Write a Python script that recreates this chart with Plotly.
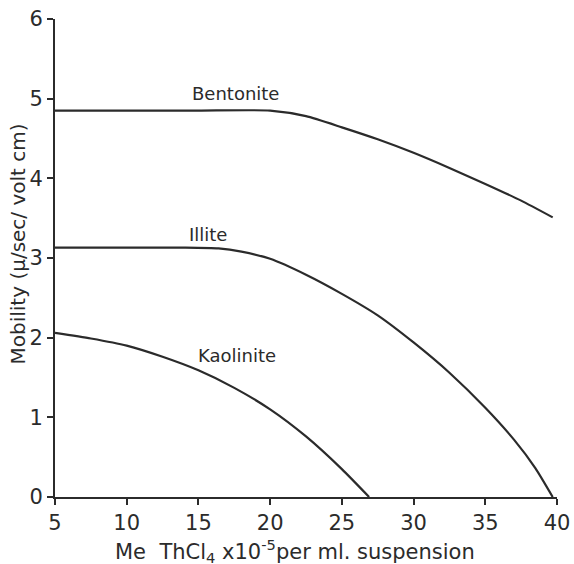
import plotly.graph_objects as go

# Data
bentonite_x = [5, 10, 15, 20, 22.5, 25, 27.5, 30, 32.5, 35, 37.5, 39.7]
bentonite_y = [4.85, 4.85, 4.85, 4.85, 4.78, 4.64, 4.49, 4.32, 4.13, 3.93, 3.72, 3.51]

illite_x = [5, 10, 14, 16.4, 18, 20, 22.5, 25, 27.5, 30, 32.5, 35, 37, 38.5, 39.7]
illite_y = [3.13, 3.13, 3.13, 3.12, 3.08, 2.99, 2.79, 2.55, 2.28, 1.94, 1.56, 1.12, 0.72, 0.36, 0.0]

kaolinite_x = [5, 7.5, 10, 12.5, 15, 17.5, 20, 22.5, 25, 26.9]
kaolinite_y = [2.06, 1.99, 1.90, 1.76, 1.59, 1.37, 1.10, 0.76, 0.35, 0.0]

labels = ["Bentonite", "Illite", "Kaolinite"]
label_x = [17.6, 15.7, 17.7]
label_y = [5.06, 3.29, 1.78]

x_ticks = [5, 10, 15, 20, 25, 30, 35, 40]
y_ticks = [0, 1, 2, 3, 4, 5, 6]

ink = "#2b2b2b"
font_family = "DejaVu Sans, Verdana, sans-serif"

fig = go.Figure()
for xs, ys in [(bentonite_x, bentonite_y), (illite_x, illite_y), (kaolinite_x, kaolinite_y)]:
    fig.add_trace(go.Scatter(x=xs, y=ys, mode="lines",
                             line=dict(color=ink, width=2.2, shape="spline", smoothing=0.6),
                             showlegend=False, hoverinfo="skip", cliponaxis=False))

for t, lx, ly in zip(labels, label_x, label_y):
    fig.add_annotation(x=lx, y=ly, text=t, showarrow=False, xref="x", yref="y",
                       font=dict(size=18, color=ink, family=font_family))

fig.add_annotation(x=0.478, y=-0.113, xref="paper", yref="paper", showarrow=False,
                   text="Me  ThCl<sub>4</sub> x10<sup>-5</sup>per ml. suspension",
                   xanchor="center", yanchor="middle",
                   font=dict(size=21, color=ink, family=font_family))
fig.add_annotation(x=-0.074, y=0.53, xref="paper", yref="paper", showarrow=False,
                   text="Mobility (μ/sec/ volt cm)", textangle=-90,
                   xanchor="center", yanchor="middle",
                   font=dict(size=20, color=ink, family=font_family))

fig.update_xaxes(range=[5, 40], tickvals=x_ticks, ticktext=[str(v) for v in x_ticks],
                 showline=True, linecolor=ink, linewidth=2, ticks="outside",
                 ticklen=6, tickwidth=1.5, tickcolor=ink, showgrid=False, zeroline=False,
                 automargin=False, ticklabeloverflow="allow",
                 tickfont=dict(size=21, color=ink, family=font_family))
fig.update_yaxes(range=[0, 6], tickvals=y_ticks, ticktext=[str(v) for v in y_ticks],
                 showline=True, linecolor=ink, linewidth=2, ticks="outside",
                 ticklen=6, tickwidth=1.5, tickcolor=ink, showgrid=False, zeroline=False,
                 automargin=False, ticklabeloverflow="allow",
                 tickfont=dict(size=21, color=ink, family=font_family))

fig.update_layout(width=574, height=564, margin=dict(l=55, r=17, t=19, b=67),
                  plot_bgcolor="white", paper_bgcolor="white")

# remove the default page margin so the figure fills the 574x564 window exactly
fig.write_html("out.html", config={"displayModeBar": False},
               post_script="document.body.style.margin='0px';document.body.style.overflow='hidden';")
